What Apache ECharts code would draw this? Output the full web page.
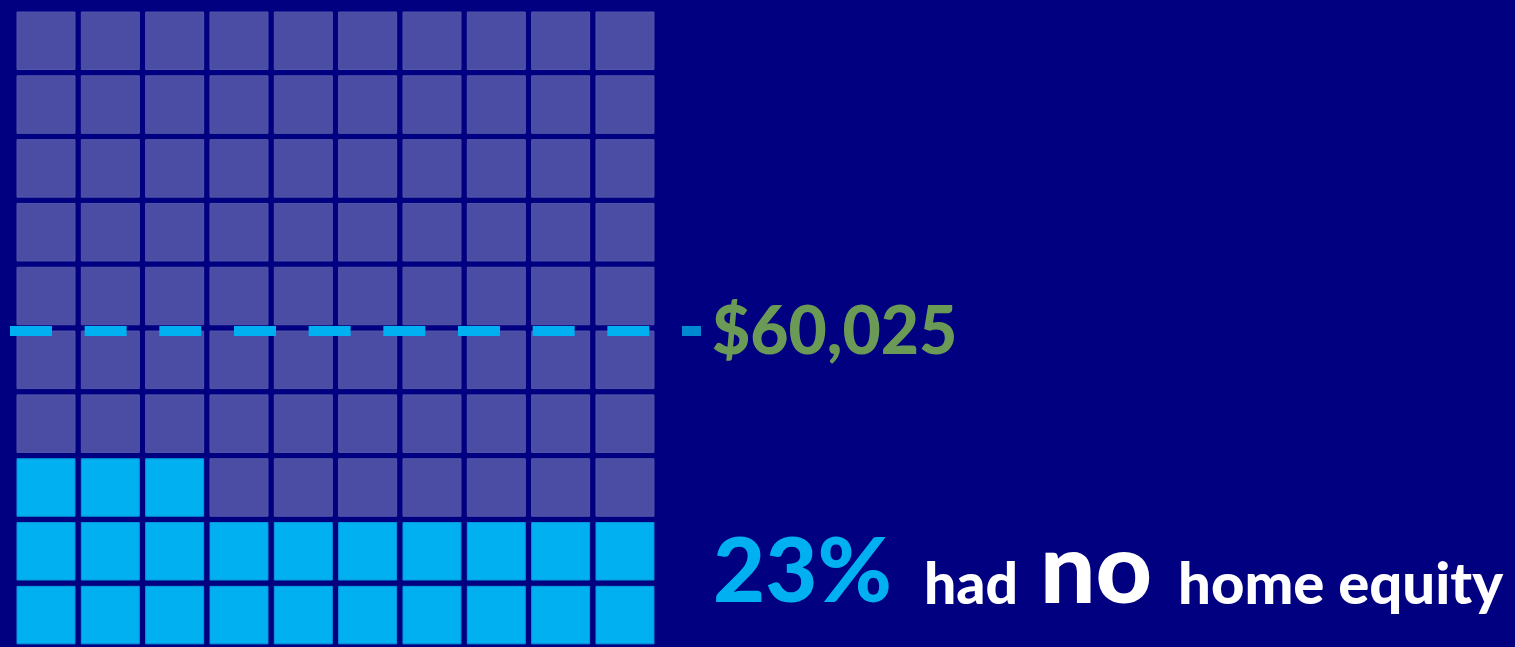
<!DOCTYPE html>
<html>
<head>
<meta charset="utf-8">
<script src="https://cdn.jsdelivr.net/npm/echarts@6/dist/echarts.min.js"></script>
<style>
html,body{margin:0;padding:0;background:#000080;}
#chart{width:1515px;height:647px;}
</style>
</head>
<body>
<div id="chart"></div>
<script>
// ---- data ----
var totalCells = 100;
var columns = 10;
var filledCells = 23;            // 23% had no home equity
var medianLevel = 4.95;           // dashed line height (rows from bottom)
var medianLabel = '$60,025';
var lineStartX = -0.06;
var lineEndX = 10.387;
var tailEndX = 10.682;
var pctLabel = '23%';
var textParts = ['had', 'no', 'home equity'];

// ---- build cells ----
var cells = [];
for (var i = 0; i < totalCells; i++) {
  cells.push([i % columns, Math.floor(i / columns), i < filledCells ? 1 : 0]);
}

var chart = echarts.init(document.getElementById('chart'), null, {renderer: 'canvas'});
var FONT = 'Lato, "Open Sans", sans-serif';

chart.setOption({
  backgroundColor: '#000080',
  animation: false,
  grid: {left: 0, top: 8.85, width: 785.8, height: 643, containLabel: false},
  xAxis: {type: 'value', min: -0.215, max: 12, show: false},
  yAxis: {type: 'value', min: 0, max: 10, show: false},
  series: [
    {
      type: 'custom',
      data: cells,
      renderItem: function (params, api) {
        var tl = api.coord([api.value(0), api.value(1) + 1]);
        var sz = api.size([1, 1]);
        var filled = api.value(2) === 1;
        var gx = 3.17, gy = 3.15;
        return {
          type: 'rect',
          shape: {x: tl[0] + gx, y: tl[1] + gy, width: sz[0] - 2 * gx, height: sz[1] - 2 * gy},
          style: {
            fill: filled ? '#00B0F0' : '#4B4DA5',
            stroke: filled ? '#0A98DC' : '#5555AC',
            lineWidth: 1
          }
        };
      },
      silent: true,
      z: 1
    },
    {
      type: 'line',
      data: [[lineStartX, medianLevel], [tailEndX, medianLevel]],
      symbol: 'none',
      silent: true,
      lineStyle: {color: '#00B0F0', width: 10, type: [42, 32.67], cap: 'butt'},
      z: 3
    },
    {
      type: 'line',
      data: [[lineEndX, medianLevel], [tailEndX, medianLevel]],
      symbol: 'none',
      silent: true,
      lineStyle: {color: '#0088D0', width: 10, type: 'solid', cap: 'butt'},
      z: 4
    }
  ],
  graphic: [
    {type: 'text', x: 712, y: 333, style: {text: medianLabel, fill: '#6B9A57', font: '900 66px ' + FONT, align: 'left', verticalAlign: 'middle'}},
    {type: 'text', x: 713, y: 573, style: {text: pctLabel, fill: '#00B0F0', font: '900 90px ' + FONT, align: 'left', verticalAlign: 'middle'}},
    {type: 'text', x: 924, y: 585.6, style: {text: textParts[0], fill: '#FFFFFF', font: '900 57px ' + FONT, align: 'left', verticalAlign: 'middle'}},
    {type: 'text', x: 1040, y: 571.7, style: {text: textParts[1], fill: '#FFFFFF', font: '900 98px ' + FONT, align: 'left', verticalAlign: 'middle'}},
    {type: 'text', x: 1178, y: 585.6, style: {text: textParts[2], fill: '#FFFFFF', font: '900 58px ' + FONT, align: 'left', verticalAlign: 'middle'}}
  ]
});
</script>
</body>
</html>
